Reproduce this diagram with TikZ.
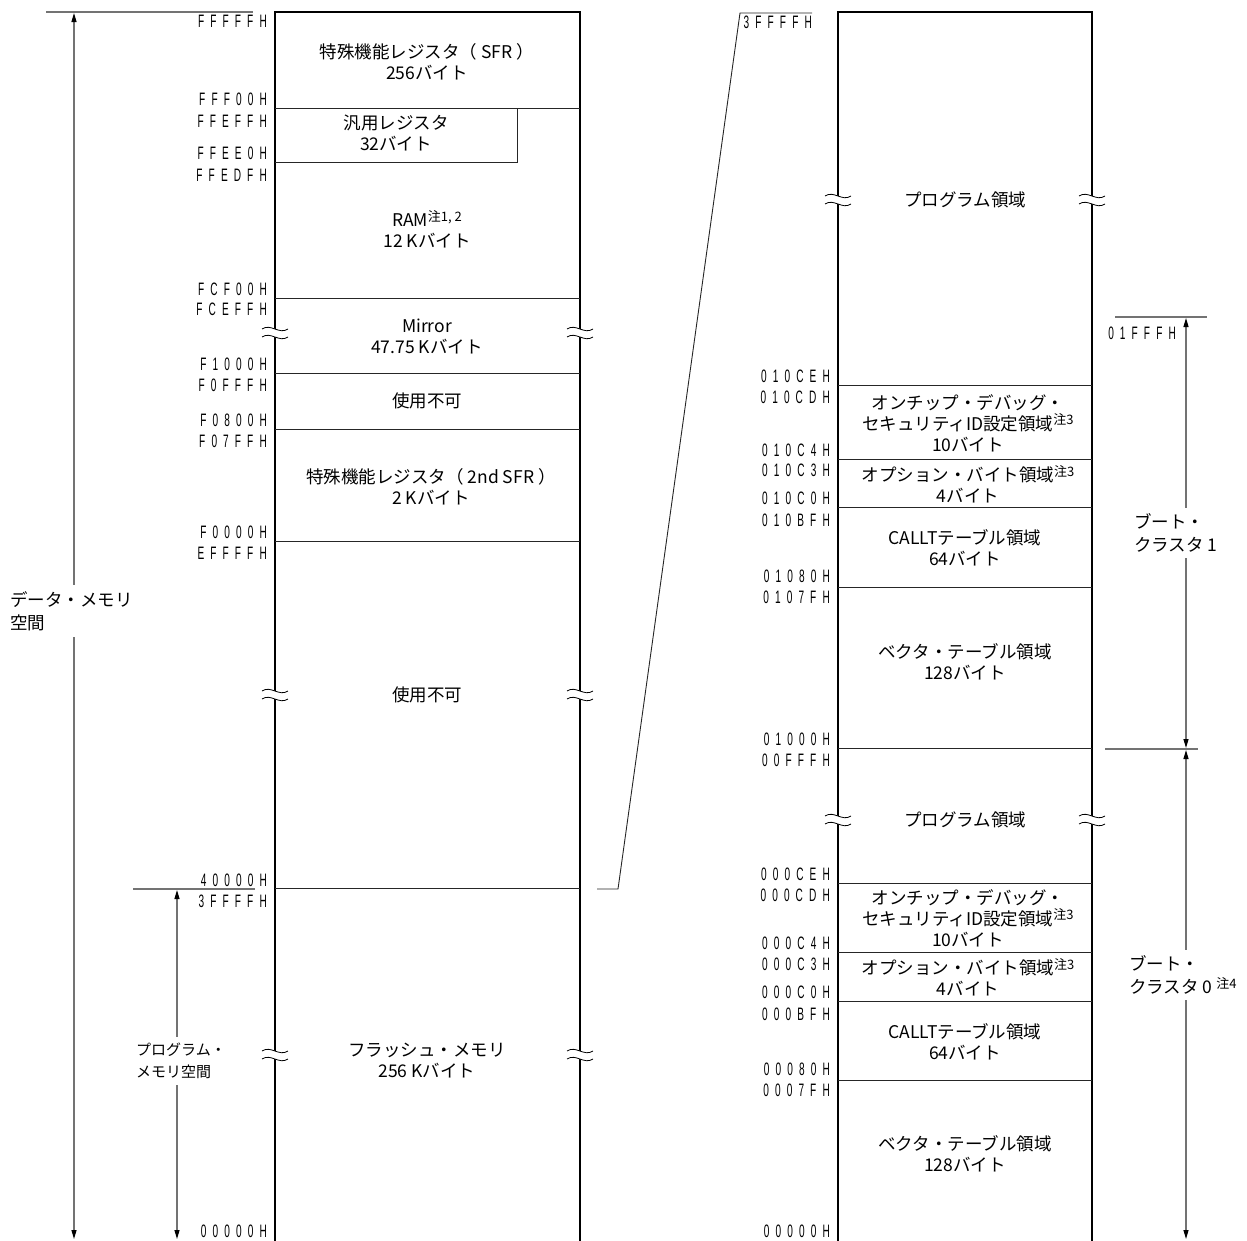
\documentclass[tikz,border=0pt]{standalone}
\usepackage{fontspec}
\setmainfont{Noto Sans CJK JP}
\newfontfamily\addrfont[FakeStretch=0.56,LetterSpace=34]{Liberation Sans}
\usetikzlibrary{arrows.meta,positioning}

\newcommand{\chu}[1]{\raisebox{0.55ex}{\fontsize{13}{13}\selectfont 注#1}}
\newcommand{\wavebreak}[2]{%
  \fill[white] (#1-13,#2-4) .. controls (#1-4,#2-10) and (#1+4,#2+2) .. (#1+13,#2-4)
     -- (#1+13,#2+4) .. controls (#1+4,#2+10) and (#1-4,#2-2) .. (#1-13,#2+4) -- cycle;
  \draw[line width=0.8pt] (#1-13,#2-4) .. controls (#1-4,#2-10) and (#1+4,#2+2) .. (#1+13,#2-4);
  \draw[line width=0.8pt] (#1-13,#2+4) .. controls (#1-4,#2-2) and (#1+4,#2+10) .. (#1+13,#2+4);}

\begin{document}
\begin{tikzpicture}[x=1pt,y=-1pt,
      mytext/.style={
         align=center,
         inner sep=0pt,
         font=\fontsize{17.5}{21}\selectfont},
      mylabel/.style={
         align=left,
         anchor=west,
         fill=white,
         inner xsep=2pt,
         inner ysep=6pt,
         font=\fontsize{17.5}{23}\selectfont},
      myaddr/.style={
         anchor=east,
         inner sep=0pt,
         font=\addrfont\fontsize{18}{18}\selectfont},
      myframe/.style={line width=1.8pt,line join=miter},
      myline/.style={line width=0.9pt,draw=black!85},
      mydim/.style={line width=1.2pt,draw=black!55},
      myarrow/.style={{Triangle[length=9pt,width=5pt,color=black]}-{Triangle[length=9pt,width=5pt,color=black]}},
      ]
      \useasboundingbox (0,0) rectangle (1247,1240);
      % left column
      \coordinate (lt) at (275,12);
      \coordinate (rt) at (580,12);
      \coordinate (lb) at (275,1250);
      \coordinate (rb) at (580,1250);
      \draw[myframe] (lb) -- (lt) -- (rt) -- (rb);
      \foreach \y in {108,298,373,429,541,888}
         \draw[myline] (275,\y) -- (580,\y);
      \draw[myline] (275,162) -- (517,162) -- (517,108);
      \foreach \y in {333,695,1055} {
         \wavebreak{275}{\y}
         \wavebreak{580}{\y}}
      \node[mytext] (sfr) at (427,62) {特殊機能レジスタ（ SFR ）\\256バイト};
      \node[mytext] (gpr) at (396,133) {汎用レジスタ\\32バイト};
      \node[mytext] (ram) at (427,229) {RAM\chu{1, 2}\\12 Kバイト};
      \node[mytext] (mirror) at (427,336) {Mirror\\47.75 Kバイト};
      \node[mytext] (na1) at (427,401) {使用不可};
      \node[mytext] (sfr2) at (431,487) {特殊機能レジスタ（ 2nd SFR ）\\2 Kバイト};
      \node[mytext] (na2) at (427,695) {使用不可};
      \node[mytext] (flash) at (427,1061) {フラッシュ・メモリ\\256 Kバイト};
      \foreach \y/\a in {21/FFFFFH,99/FFF00H,121/FFEFFH,153/FFEE0H,175/FFEDFH,
         289/FCF00H,309/FCEFFH,364/F1000H,385/F0FFFH,420/F0800H,441/F07FFH,
         532/F0000H,553/EFFFFH,880/40000H,901/3FFFFH,1231/00000H}
         \node[myaddr] (l\y) at (267,\y) {\a};
      % data / program memory space
      \coordinate (dtop) at (46,12);
      \coordinate (dend) at (253,12);
      \coordinate (ptop) at (133,889);
      \coordinate (pend) at (255,889);
      \draw[mydim] (dtop) -- (dend);
      \draw[mydim] (ptop) -- (pend);
      \draw[mydim,myarrow] (74,13) -- (74,1239);
      \draw[mydim,myarrow] (177,890) -- (177,1239);
      \node[mylabel] (dms) at (8,611) {データ・メモリ\\空間};
      \node[mylabel,font=\fontsize{15}{22}\selectfont] (pms) at (134,1061) {プログラム・\\メモリ空間};
      % zoom line
      \coordinate (z1) at (597,889);
      \coordinate (z2) at (618,889);
      \coordinate (z3) at (740,13);
      \coordinate (z4) at (812,13);
      \draw[myline] (z1) -- (z2) -- (z3) -- (z4);
      % right column
      \coordinate (Lt) at (838,12);
      \coordinate (Rt) at (1092,12);
      \coordinate (Lb) at (838,1250);
      \coordinate (Rb) at (1092,1250);
      \draw[myframe] (Lb) -- (Lt) -- (Rt) -- (Rb);
      \foreach \y in {385,459,507,587,748,883,952,1001,1080}
         \draw[myline] (838,\y) -- (1092,\y);
      \foreach \y in {200,820} {
         \wavebreak{838}{\y}
         \wavebreak{1092}{\y}}
      \foreach \n/\o in {1/0,0/620} {
         \node[mytext] (prg\n) at (965,200+\o) {プログラム領域};}
      \node[mytext] (ocd1) at (968,423) {オンチップ・デバッグ・\\セキュリティID設定領域\chu{3}\\10バイト};
      \node[mytext] (opt1) at (968,484) {オプション・バイト領域\chu{3}\\4バイト};
      \node[mytext] (callt1) at (965,548) {CALLTテーブル領域\\64バイト};
      \node[mytext] (vec1) at (965,662) {ベクタ・テーブル領域\\128バイト};
      \node[mytext] (ocd0) at (968,918) {オンチップ・デバッグ・\\セキュリティID設定領域\chu{3}\\10バイト};
      \node[mytext] (opt0) at (968,977) {オプション・バイト領域\chu{3}\\4バイト};
      \node[mytext] (callt0) at (965,1042) {CALLTテーブル領域\\64バイト};
      \node[mytext] (vec0) at (965,1154) {ベクタ・テーブル領域\\128バイト};
      \node[myaddr] (r3fff) at (812,22) {3FFFFH};
      \foreach \y/\a in {376/010CEH,397/010CDH,450/010C4H,470/010C3H,498/010C0H,
         520/010BFH,576/01080H,597/0107FH,739/01000H,760/00FFFH,874/000CEH,
         895/000CDH,943/000C4H,964/000C3H,992/000C0H,1014/000BFH,1069/00080H,
         1090/0007FH,1231/00000H}
         \node[myaddr] (r\y) at (830,\y) {\a};
      % boot clusters
      \coordinate (b1a) at (1115,317);
      \coordinate (b1b) at (1207,317);
      \coordinate (b0a) at (1105,749);
      \coordinate (b0b) at (1198,749);
      \draw[mydim] (b1a) -- (b1b);
      \draw[mydim] (b0a) -- (b0b);
      \node[myaddr] (r01fff) at (1176,333) {01FFFH};
      \draw[mydim,myarrow] (1186,318) -- (1186,748);
      \draw[mydim,myarrow] (1186,750) -- (1186,1239);
      \node[mylabel] (bc1) at (1132,533) {ブート・\\クラスタ 1};
      \node[mylabel] (bc0) at (1127,975) {ブート・\\クラスタ 0 \chu{4}};
\end{tikzpicture}
\end{document}
